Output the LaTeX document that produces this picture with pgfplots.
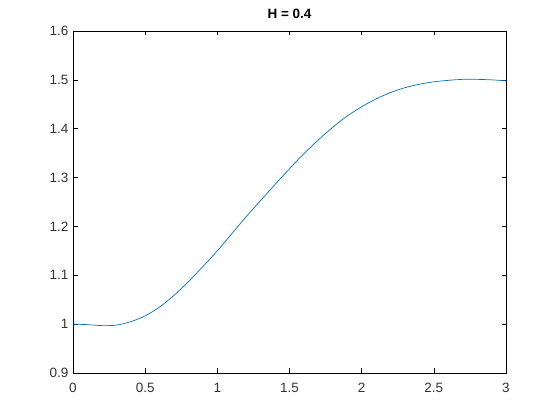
\documentclass[border=0pt]{standalone}
\usepackage{pgfplots}
\pgfplotsset{compat=1.18}
\usepackage{fontspec}
\setmainfont{Liberation Sans}
\definecolor{mblue}{RGB}{0,114,189}
\begin{document}
\begin{tikzpicture}
\path[use as bounding box] (-73pt,-47pt) rectangle (487pt,373pt);
\begin{axis}[
    at={(0pt,0pt)}, anchor=south west,
    scale only axis,
    width=433pt, height=342pt,
    xmin=0, xmax=3, ymin=0.9, ymax=1.6,
    xtick={0,0.5,...,3},
    ytick={0.9,1,...,1.6},
    tick align=inside,
    major tick length=4.5pt,
    axis line style={line width=0.6pt},
    every tick/.style={black,line width=0.6pt},
    tick label style={font=\fontsize{13.5}{15}\selectfont, color=black!80},
    xticklabel style={yshift=-6.5pt},
    yticklabel style={xshift=-1pt,/pgf/number format/fixed,/pgf/number format/precision=1},
    /pgf/number format/assume math mode=true,
    title={\textbf{H = 0.4}},
    title style={font=\fontsize{13.5}{15}\selectfont, yshift=3pt},
]
\addplot[mblue, line width=0.7pt, smooth] coordinates {
 (0,1.000) (0.1,0.999) (0.2,0.997) (0.3,0.998) (0.4,1.005)
 (0.5,1.017) (0.6,1.035) (0.7,1.059) (0.8,1.087) (0.9,1.118)
 (1.0,1.150) (1.1,1.185) (1.2,1.220) (1.3,1.253) (1.4,1.286)
 (1.5,1.318) (1.6,1.349) (1.7,1.377) (1.8,1.403) (1.9,1.426)
 (2.0,1.445) (2.1,1.461) (2.2,1.474) (2.3,1.484) (2.4,1.491)
 (2.5,1.496) (2.6,1.499) (2.7,1.501) (2.8,1.501) (2.9,1.500)
 (3.0,1.498)
};
\end{axis}
\end{tikzpicture}
\end{document}
